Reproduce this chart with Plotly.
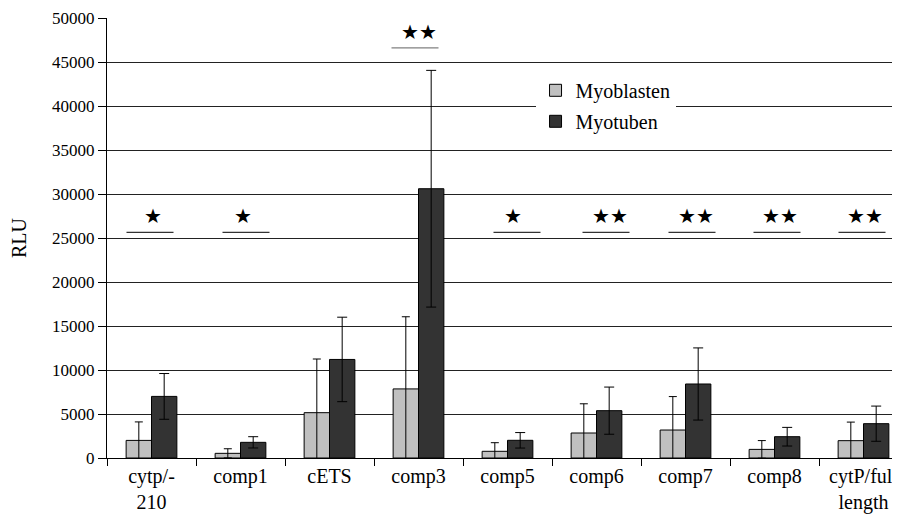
import plotly.graph_objects as go

categories = ["cytp/-<br>210", "comp1", "cETS", "comp3", "comp5", "comp6", "comp7", "comp8", "cytP/full<br>length"]
myoblasten = [2000, 530, 5150, 7850, 760, 2840, 3180, 980, 1970]
myoblasten_err = [2100, 520, 6100, 8200, 980, 3320, 3800, 1000, 2110]
myotuben = [7000, 1780, 11200, 30600, 2010, 5380, 8410, 2420, 3900]
myotuben_err = [2600, 640, 4800, 13450, 880, 2680, 4100, 1060, 2000]
significance = ["★", "★", "", "★★", "★", "★★", "★★", "★★", "★★"]
sig_level = [25650, 25650, 0, 46600, 25650, 25650, 25650, 25650, 25650]
y_ticks = list(range(0, 50001, 5000))

# styling offsets (pixels) for the hand-drawn significance marks
line_shift = [-2, 5, 0, -4, 9, 9, 6, 2, -2]
star_shift = [1, 2, 0, 0, 5, 13, 10, 5, 1]

SERIF = "'Liberation Serif', 'Times New Roman', Tinos, 'DejaVu Serif', serif"

fig = go.Figure()
fig.add_trace(go.Bar(
    x=categories, y=myoblasten, name="Myoblasten",
    marker=dict(color="#c0c0c0", line=dict(color="black", width=1)),
    error_y=dict(type="data", array=myoblasten_err, color="black", thickness=1, width=4),
    legendgroup="a",
))
fig.add_trace(go.Bar(
    x=categories, y=myotuben, name="Myotuben",
    marker=dict(color="#333333", line=dict(color="black", width=1)),
    error_y=dict(type="data", array=myotuben_err, color="black", thickness=1, width=5),
    legendgroup="b",
))

for i, (s, lvl) in enumerate(zip(significance, sig_level)):
    if not s:
        continue
    col = "#808080" if lvl > 40000 else "#333333"
    fig.add_shape(type="line", xref="x", yref="y", xsizemode="pixel",
                  xanchor=i, x0=-23 + line_shift[i], x1=24 + line_shift[i],
                  y0=lvl, y1=lvl, line=dict(color=col, width=1.3))
    fig.add_annotation(x=i, y=lvl, text=s, showarrow=False, yanchor="bottom",
                       xshift=star_shift[i], yshift=2,
                       font=dict(family="DejaVu Sans", size=20, color="black"))

fig.update_layout(
    width=900, height=530,
    margin=dict(l=99, r=0, t=10, b=80),
    paper_bgcolor="white", plot_bgcolor="white",
    barmode="group", bargap=0.43, bargroupgap=0,
    font=dict(family=SERIF, color="black"),
    showlegend=True,
    legend=dict(x=0.535, y=0.88, xanchor="left", yanchor="top",
                bgcolor="white", borderwidth=0, font=dict(family=SERIF, size=20, color="black"),
                traceorder="grouped", tracegroupgap=2, itemwidth=30),
    xaxis=dict(range=[-0.5, 8.5], tickson="boundaries", ticks="outside", ticklen=7,
               tickcolor="black", showline=True, linecolor="black", linewidth=1,
               showgrid=False, tickfont=dict(family=SERIF, size=20, color="black"),
               tickangle=0),
    yaxis=dict(range=[0, 50000], tickvals=y_ticks, tickformat="d", ticks="outside",
               ticklen=8, tickcolor="black", showline=True, linecolor="black", linewidth=1,
               showgrid=True, gridcolor="#222222", gridwidth=1, zeroline=False,
               tickfont=dict(family=SERIF, size=17, color="black"),
               title=dict(text="RLU", font=dict(family=SERIF, size=20, color="black"), standoff=22)),
)

fig.write_html("out.html")
